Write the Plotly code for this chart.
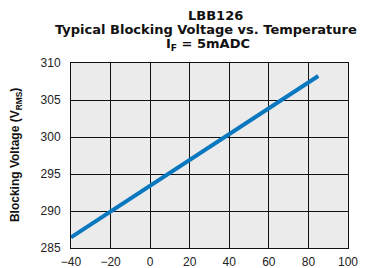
import plotly.graph_objects as go

temperature = [-40, 85]
blocking_voltage = [286.45, 308.25]

x_ticks = [-40, -20, 0, 20, 40, 60, 80, 100]
y_ticks = [285, 290, 295, 300, 305, 310]

title_lines = ["LBB126", "Typical Blocking Voltage vs. Temperature", "I<sub>F</sub> = 5mADC"]
y_title = "Blocking Voltage (V<sub>RMS</sub>)"

font_family = "Liberation Sans, Arial, sans-serif"
title_family = "DejaVu Sans, Liberation Sans, sans-serif"

fig = go.Figure()
fig.add_trace(go.Scatter(
    x=temperature, y=blocking_voltage, mode="lines",
    line=dict(color="#0A78BE", width=4),
    showlegend=False, hoverinfo="skip",
))

title_pos = [(0.523, 1.256), (0.489, 1.183), (0.495, 1.100)]
for txt, (px, py) in zip(title_lines, title_pos):
    fig.add_annotation(
        text="<b>" + txt + "</b>", xref="paper", yref="paper",
        x=px, y=py, xanchor="center", yanchor="middle", showarrow=False,
        font=dict(family=title_family, size=13, color="#111"),
    )

fig.add_annotation(
    text="<b>" + y_title + "</b>", xref="paper", yref="paper",
    x=-0.198, y=0.503, xanchor="center", yanchor="middle", showarrow=False,
    textangle=-90, font=dict(family=font_family, size=12, color="#111"),
)

fig.update_layout(
    width=362, height=260,
    margin=dict(l=63, r=22, t=55, b=20, autoexpand=False),
    paper_bgcolor="white",
    plot_bgcolor="#EBEBEB",
    font=dict(family=font_family, size=12, color="#222"),
    xaxis=dict(
        range=[-40, 100], tickvals=x_ticks, automargin=False,
        ticks="outside", ticklen=3, tickcolor="rgba(0,0,0,0)",
        showgrid=True, gridcolor="#111", gridwidth=1,
        showline=True, linecolor="#111", linewidth=1, mirror=True,
        zeroline=False, fixedrange=True,
        tickfont=dict(size=12, color="#222"),
    ),
    yaxis=dict(
        range=[285, 310], tickvals=y_ticks, automargin=False,
        ticks="outside", ticklen=7, tickcolor="rgba(0,0,0,0)",
        showgrid=True, gridcolor="#111", gridwidth=1,
        showline=True, linecolor="#111", linewidth=1, mirror=True,
        zeroline=False, fixedrange=True,
        tickfont=dict(size=12, color="#222"),
    ),
)

fig.write_html("out.html")
